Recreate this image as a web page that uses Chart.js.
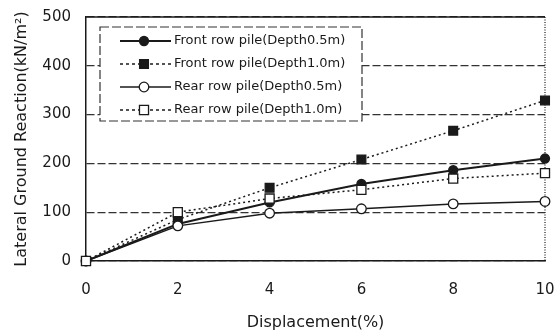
<!DOCTYPE html>
<html><head><meta charset="utf-8">
<script src="https://cdn.jsdelivr.net/npm/chart.js@4/dist/chart.umd.min.js"></script>
<style>html,body{margin:0;padding:0;background:#fff}#wrap{width:557px;height:335px}</style>
</head><body><div id="wrap"><canvas id="c" width="557" height="335"></canvas></div>
<script>
// ---- data ----
const displacement = [0, 2, 4, 6, 8, 10];
const frontDepth05 = [0, 76, 120, 158, 186, 210];
const frontDepth10 = [0, 85, 150, 208, 267, 329];
const rearDepth05  = [0, 72, 98, 107, 117, 122];
const rearDepth10  = [0, 100, 128, 146, 169, 180];
const seriesLabels = [
  'Front row pile(Depth0.5m)',
  'Front row pile(Depth1.0m)',
  'Rear row pile(Depth0.5m)',
  'Rear row pile(Depth1.0m)'
];
const xTickValues = [0, 2, 4, 6, 8, 10];
const yTickValues = [0, 100, 200, 300, 400, 500];
const xTitle = 'Displacement(%)';
const yTitle = 'Lateral Ground Reaction(kN/m\u00B2)';

const FONT = "'DejaVu Sans', sans-serif";
const INK = '#1a1a1a';

function pts(vals) { return displacement.map((x, i) => ({ x: x, y: vals[i] })); }

const styles = [
  { dash: [], width: 2, pointStyle: 'circle', r: 4.5, fill: INK },
  { dash: [2, 3], width: 1.5, pointStyle: 'rect', r: 6.2, fill: INK },
  { dash: [], width: 1.5, pointStyle: 'circle', r: 4.8, fill: '#fff' },
  { dash: [2, 3], width: 1.5, pointStyle: 'rect', r: 6.4, fill: '#fff' }
];
const seriesValues = [frontDepth05, frontDepth10, rearDepth05, rearDepth10];

const datasets = seriesValues.map((v, i) => ({
  label: seriesLabels[i],
  data: pts(v),
  borderColor: INK,
  borderWidth: styles[i].width,
  borderDash: styles[i].dash,
  pointStyle: styles[i].pointStyle,
  pointRadius: styles[i].r,
  pointBackgroundColor: styles[i].fill,
  pointBorderColor: INK,
  pointBorderWidth: 1.3,
  tension: 0,
  fill: false,
  clip: false
}));
// draw front row on top
datasets.reverse();

function drawMarker(ctx, st, x, y) {
  ctx.save();
  ctx.setLineDash([]);
  ctx.lineWidth = 1.3;
  ctx.strokeStyle = INK;
  ctx.fillStyle = st.fill;
  ctx.beginPath();
  if (st.pointStyle === 'circle') {
    ctx.arc(x, y, st.r, 0, Math.PI * 2);
  } else {
    const s = Math.SQRT1_2 * st.r;
    ctx.rect(x - s, y - s, 2 * s, 2 * s);
  }
  ctx.fill();
  ctx.stroke();
  ctx.restore();
}

const framePlugin = {
  id: 'frame',
  beforeDatasetsDraw(chart) {
    const { ctx, chartArea: a } = chart;
    ctx.save();
    ctx.strokeStyle = INK;
    ctx.lineWidth = 1.5;
    ctx.beginPath(); ctx.moveTo(a.left, a.top); ctx.lineTo(a.right, a.top); ctx.stroke();
    ctx.lineWidth = 1.2;
    ctx.setLineDash([1, 1.5]);
    ctx.beginPath(); ctx.moveTo(a.right, a.top); ctx.lineTo(a.right, a.bottom); ctx.stroke();
    ctx.restore();
  },
  afterDraw(chart) {
    const { ctx, chartArea: a } = chart;
    const bx = a.left + 14, by = a.top + 10, bw = 262, bh = 94;
    ctx.save();
    ctx.fillStyle = '#fff';
    ctx.fillRect(bx, by, bw, bh);
    ctx.strokeStyle = '#333';
    ctx.lineWidth = 1.2;
    ctx.setLineDash([9, 3]);
    ctx.strokeRect(bx, by, bw, bh);
    ctx.setLineDash([]);
    ctx.font = '13px ' + FONT;
    ctx.textBaseline = 'middle';
    ctx.fillStyle = INK;
    for (let i = 0; i < 4; i++) {
      const st = styles[i];
      const y = by + 14 + i * 23;
      ctx.save();
      ctx.strokeStyle = INK;
      ctx.lineWidth = st.width;
      ctx.setLineDash(st.dash.length ? [3, 3] : []);
      ctx.beginPath(); ctx.moveTo(bx + 20, y); ctx.lineTo(bx + 71, y); ctx.stroke();
      ctx.restore();
      drawMarker(ctx, st, bx + 44, y);
      ctx.fillText(seriesLabels[i], bx + 74, y);
    }
    ctx.restore();
  }
};

new Chart(document.getElementById('c'), {
  type: 'line',
  data: { datasets: datasets },
  options: {
    responsive: false,
    animation: false,
    layout: { padding: { top: 17, right: 12, left: 0, bottom: 0 } },
    plugins: { legend: { display: false }, tooltip: { enabled: false } },
    scales: {
      x: {
        type: 'linear', min: 0, max: 10,
        afterBuildTicks(s) { s.ticks = xTickValues.map(v => ({ value: v })); },
        afterFit(s) { s.height = 74; s.paddingLeft = 0; s.paddingRight = 0; },
        grid: { display: false, drawTicks: false },
        border: { display: true, color: INK, width: 1.5 },
        ticks: { padding: 20, color: INK, font: { family: FONT, size: 15 } },
        title: { display: true, text: xTitle, color: INK, font: { family: FONT, size: 16 }, padding: { top: 0, bottom: 3 } }
      },
      y: {
        min: 0, max: 500,
        afterBuildTicks(s) { s.ticks = yTickValues.map(v => ({ value: v })); },
        afterFit(s) { s.width = 86; s.paddingTop = 0; s.paddingBottom = 0; },
        grid: { color: '#333', lineWidth: 1.2, drawTicks: false },
        border: { display: true, color: INK, width: 1.5, dash: [8, 3] },
        ticks: { padding: 15, color: INK, font: { family: FONT, size: 15 } },
        title: { display: true, text: yTitle, color: INK, font: { family: FONT, size: 16 }, padding: { top: 12, bottom: 0 } }
      }
    }
  },
  plugins: [framePlugin]
});
</script></body></html>
